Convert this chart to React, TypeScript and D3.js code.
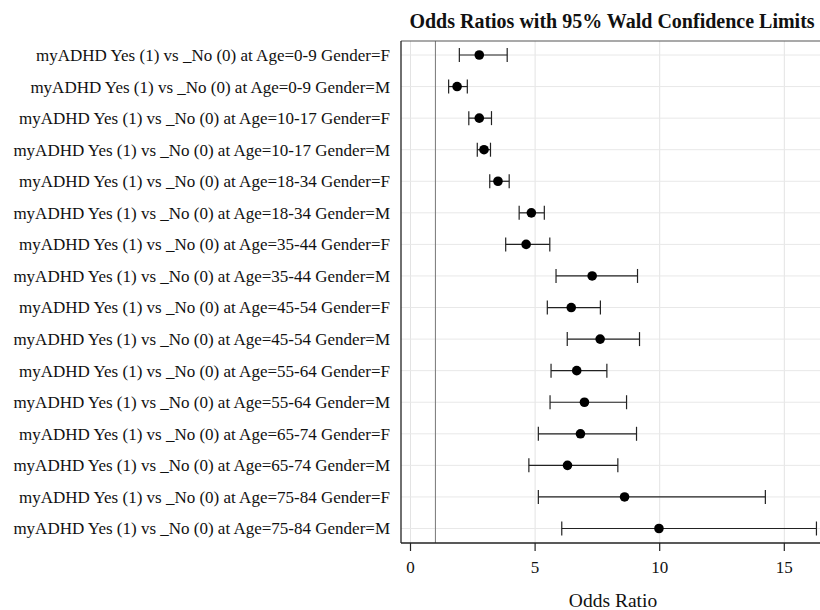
import React from "react";
import * as d3 from "d3";

const labels = [
  "myADHD Yes (1) vs _No (0) at Age=0-9 Gender=F",
  "myADHD Yes (1) vs _No (0) at Age=0-9 Gender=M",
  "myADHD Yes (1) vs _No (0) at Age=10-17 Gender=F",
  "myADHD Yes (1) vs _No (0) at Age=10-17 Gender=M",
  "myADHD Yes (1) vs _No (0) at Age=18-34 Gender=F",
  "myADHD Yes (1) vs _No (0) at Age=18-34 Gender=M",
  "myADHD Yes (1) vs _No (0) at Age=35-44 Gender=F",
  "myADHD Yes (1) vs _No (0) at Age=35-44 Gender=M",
  "myADHD Yes (1) vs _No (0) at Age=45-54 Gender=F",
  "myADHD Yes (1) vs _No (0) at Age=45-54 Gender=M",
  "myADHD Yes (1) vs _No (0) at Age=55-64 Gender=F",
  "myADHD Yes (1) vs _No (0) at Age=55-64 Gender=M",
  "myADHD Yes (1) vs _No (0) at Age=65-74 Gender=F",
  "myADHD Yes (1) vs _No (0) at Age=65-74 Gender=M",
  "myADHD Yes (1) vs _No (0) at Age=75-84 Gender=F",
  "myADHD Yes (1) vs _No (0) at Age=75-84 Gender=M",
];
const oddsRatio = [2.76, 1.87, 2.76, 2.95, 3.51, 4.85, 4.64, 7.29, 6.45, 7.61, 6.67, 6.98, 6.82, 6.3, 8.59, 9.97];
const lowerCL = [1.96, 1.53, 2.34, 2.68, 3.18, 4.36, 3.82, 5.84, 5.49, 6.29, 5.64, 5.6, 5.13, 4.75, 5.13, 6.07];
const upperCL = [3.88, 2.28, 3.25, 3.21, 3.96, 5.37, 5.59, 9.11, 7.62, 9.19, 7.88, 8.67, 9.07, 8.32, 14.24, 16.29];
const xTicks = [0, 5, 10, 15];
const refValue = 1;

const W = 820, H = 610;
const plotLeft = 401, plotTop = 41, plotBottom = 543, plotRight = 830;
const serif = "'Liberation Serif', 'Times New Roman', serif";

export default function App() {
  const x = d3.scaleLinear().domain([0, 15]).range([410.5, 784.3]);
  const y = d3.scalePoint<number>().domain(d3.range(labels.length)).range([55, 528.5]);
  const cap = 7;
  return (
    <svg width={W} height={H} style={{ position: "absolute", left: 0, top: 0, background: "#fff" }}>
      <rect x={0} y={0} width={W} height={H} fill="#fff" />
      <text x={612} y={28} textAnchor="middle" fontFamily={serif} fontWeight="bold" fontSize={20} fill="#111">
        Odds Ratios with 95% Wald Confidence Limits
      </text>
      {xTicks.map((t) => (
        <line key={"gx" + t} x1={x(t)} x2={x(t)} y1={plotTop} y2={plotBottom} stroke="#e3e3e3" strokeWidth={1} />
      ))}
      {labels.map((_, i) => (
        <line key={"gy" + i} x1={plotLeft} x2={plotRight} y1={y(i)} y2={y(i)} stroke="#e8e8e8" strokeWidth={1} />
      ))}
      <line x1={x(refValue)} x2={x(refValue)} y1={plotTop} y2={plotBottom} stroke="#777" strokeWidth={1} />
      <line x1={plotLeft} x2={plotRight} y1={plotTop} y2={plotTop} stroke="#555" strokeWidth={1.2} />
      <line x1={plotLeft} x2={plotLeft} y1={plotTop} y2={plotBottom} stroke="#222" strokeWidth={1.3} />
      <line x1={plotLeft} x2={plotRight} y1={plotBottom} y2={plotBottom} stroke="#222" strokeWidth={1.3} />
      {labels.map((_, i) => {
        const yy = y(i)!;
        return (
          <g key={"e" + i} stroke="#222" strokeWidth={1.2}>
            <line x1={x(lowerCL[i])} x2={x(upperCL[i])} y1={yy} y2={yy} />
            <line x1={x(lowerCL[i])} x2={x(lowerCL[i])} y1={yy - cap} y2={yy + cap} />
            <line x1={x(upperCL[i])} x2={x(upperCL[i])} y1={yy - cap} y2={yy + cap} />
          </g>
        );
      })}
      {oddsRatio.map((v, i) => (
        <circle key={"p" + i} cx={x(v)} cy={y(i)} r={4.8} fill="#000" />
      ))}
      {labels.map((l, i) => (
        <text key={"l" + i} x={390} y={y(i)} dy="0.35em" textAnchor="end" fontFamily={serif} fontSize={17} fill="#111">
          {l}
        </text>
      ))}
      {xTicks.map((t) => (
        <g key={"t" + t}>
          <line x1={x(t)} x2={x(t)} y1={plotBottom} y2={plotBottom + 8} stroke="#222" strokeWidth={1.2} />
          <text x={x(t)} y={573} textAnchor="middle" fontFamily={serif} fontSize={17} fill="#111">
            {t}
          </text>
        </g>
      ))}
      <text x={613} y={607} textAnchor="middle" fontFamily={serif} fontSize={19.5} fill="#111">
        Odds Ratio
      </text>
    </svg>
  );
}
